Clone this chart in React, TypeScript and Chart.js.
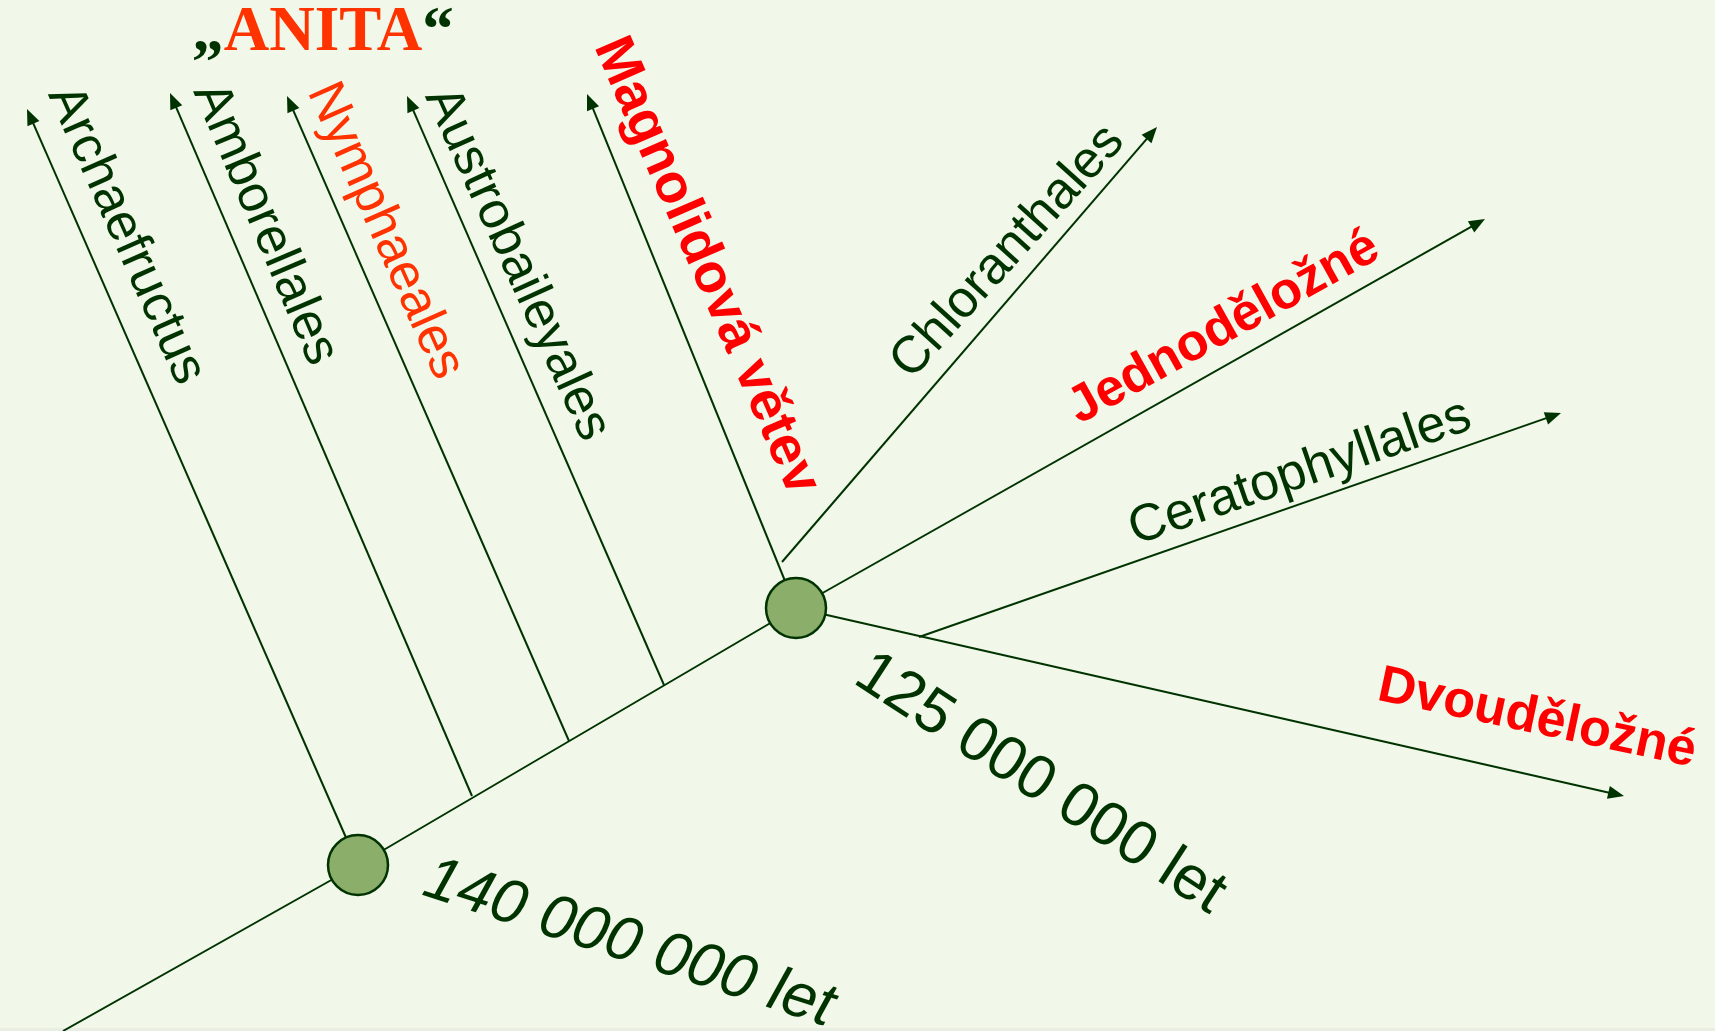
import React, { useEffect, useRef } from "react";
import { Chart, registerables } from "chart.js";

Chart.register(...registerables);

const W = 1715;
const H = 1031;

// divergence nodes
const nodeLabels = ["140 000 000 let", "125 000 000 let"];
const nodeX = [358, 796];
const nodeY = [865, 608];

// main stem
const trunkX = [63, 358, 796];
const trunkY = [1031, 865, 608];

// branches (start on stem / node, end at arrow tip)
const branchNames = [
  "Archaefructus",
  "Amborellales",
  "Nymphaeales",
  "Austrobaileyales",
  "Magnolidová větev",
  "Chloranthales",
  "Jednoděložné",
  "Ceratophyllales",
  "Dvouděložné",
];
const branchFromX = [358, 472, 569, 664, 796, 782, 796, 919, 796];
const branchFromY = [865, 796, 741, 685, 608, 562, 608, 637, 608];
const branchToX = [27, 170, 287, 407, 587, 1157, 1485, 1561, 1624];
const branchToY = [109, 93, 96, 96, 94, 127, 219, 413, 796];

// label styling / placement (layout, not data)
const DARK = "#003300";
const RED = "#ff0000";
const ORANGE = "#ff3300";
const SANS = "'Liberation Sans', Arial, sans-serif";
const SERIF = "'Liberation Serif', 'Times New Roman', serif";

type Lab = { text: string; x: number; y: number; a: number; font: string; color: string };
const labels: Lab[] = [
  { text: branchNames[0], x: 126, y: 235, a: 66, font: `52px ${SANS}`, color: DARK },
  { text: branchNames[1], x: 265, y: 224, a: 67, font: `52px ${SANS}`, color: DARK },
  { text: branchNames[2], x: 385, y: 231, a: 66, font: `52px ${SANS}`, color: ORANGE },
  { text: branchNames[3], x: 517, y: 264, a: 65.5, font: `52px ${SANS}`, color: DARK },
  { text: branchNames[4], x: 706, y: 266, a: 66.5, font: `bold 55px ${SANS}`, color: RED },
  { text: branchNames[5], x: 1008, y: 252, a: -48, font: `52px ${SANS}`, color: DARK },
  { text: branchNames[6], x: 1224, y: 328, a: -29, font: `bold 52px ${SANS}`, color: RED },
  { text: branchNames[7], x: 1300, y: 473, a: -19, font: `52px ${SANS}`, color: DARK },
  { text: branchNames[8], x: 1537, y: 719, a: 12, font: `bold 52px ${SANS}`, color: RED },
  { text: nodeLabels[0], x: 629, y: 944, a: 18, font: `italic 62px ${SANS}`, color: DARK },
  { text: nodeLabels[1], x: 1040, y: 784, a: 33, font: `62px ${SANS}`, color: DARK },
];

const ARROW_LEN = 16;
const ARROW_HALF = 6.5;

export default function App() {
  const ref = useRef<HTMLCanvasElement | null>(null);

  useEffect(() => {
    document.body.style.margin = "0";
    const canvas = ref.current;
    if (!canvas) return;

    const lineSets: any[] = [];
    lineSets.push({
      type: "line",
      data: trunkX.map((x, i) => ({ x, y: trunkY[i] })),
      borderColor: DARK,
      borderWidth: 2,
      pointRadius: 0,
      showLine: true,
      order: 2,
    });
    branchNames.forEach((_, i) => {
      const dx = branchToX[i] - branchFromX[i];
      const dy = branchToY[i] - branchFromY[i];
      const len = Math.hypot(dx, dy);
      const ex = branchToX[i] - (dx / len) * (ARROW_LEN - 2);
      const ey = branchToY[i] - (dy / len) * (ARROW_LEN - 2);
      lineSets.push({
        type: "line",
        data: [
          { x: branchFromX[i], y: branchFromY[i] },
          { x: ex, y: ey },
        ],
        borderColor: DARK,
        borderWidth: 2,
        pointRadius: 0,
        showLine: true,
        order: 2,
      });
    });

    const nodeSet = {
      type: "scatter",
      data: nodeX.map((x, i) => ({ x, y: nodeY[i] })),
      backgroundColor: "#8bae6b",
      borderColor: DARK,
      borderWidth: 2.5,
      pointRadius: 30,
      order: 0,
    };

    const bgPlugin = {
      id: "bg",
      beforeDraw(chart: any) {
        const c = chart.ctx;
        c.save();
        c.fillStyle = "#f1f8e9";
        c.fillRect(0, 0, chart.width, chart.height);
        c.fillStyle = "#e8eee2";
        c.fillRect(0, chart.height - 3, chart.width, 3);
        c.restore();
      },
    };

    const arrowPlugin = {
      id: "arrows",
      afterDatasetsDraw(chart: any) {
        const c = chart.ctx;
        const xs = chart.scales.x;
        const ys = chart.scales.y;
        c.save();
        c.fillStyle = DARK;
        branchNames.forEach((_, i) => {
          const x0 = xs.getPixelForValue(branchFromX[i]);
          const y0 = ys.getPixelForValue(branchFromY[i]);
          const x1 = xs.getPixelForValue(branchToX[i]);
          const y1 = ys.getPixelForValue(branchToY[i]);
          const ang = Math.atan2(y1 - y0, x1 - x0);
          c.save();
          c.translate(x1, y1);
          c.rotate(ang);
          c.beginPath();
          c.moveTo(0, 0);
          c.lineTo(-ARROW_LEN, -ARROW_HALF);
          c.lineTo(-ARROW_LEN, ARROW_HALF);
          c.closePath();
          c.fill();
          c.restore();
        });
        c.restore();
      },
    };

    const textPlugin = {
      id: "texts",
      afterDraw(chart: any) {
        const c = chart.ctx;
        const xs = chart.scales.x;
        const ys = chart.scales.y;
        c.save();
        labels.forEach((l) => {
          c.save();
          c.translate(xs.getPixelForValue(l.x), ys.getPixelForValue(l.y));
          c.rotate((l.a * Math.PI) / 180);
          c.font = l.font;
          c.fillStyle = l.color;
          c.textAlign = "center";
          c.textBaseline = "middle";
          c.fillText(l.text, 0, 0);
          c.restore();
        });
        // „ANITA“ heading
        const hx = xs.getPixelForValue(323);
        const hy = ys.getPixelForValue(50);
        c.font = `bold 63px ${SERIF}`;
        c.textBaseline = "alphabetic";
        c.textAlign = "left";
        const p1 = "\u201E";
        const p2 = "ANITA";
        const p3 = "\u201C";
        const w1 = c.measureText(p1).width;
        const w2 = c.measureText(p2).width;
        const w3 = c.measureText(p3).width;
        let x = hx - (w1 + w2 + w3) / 2;
        c.fillStyle = DARK;
        c.fillText(p1, x, hy);
        x += w1;
        c.fillStyle = ORANGE;
        c.fillText(p2, x, hy);
        x += w2;
        c.fillStyle = DARK;
        c.fillText(p3, x, hy);
        c.restore();
      },
    };

    const chart = new Chart(canvas, {
      type: "scatter",
      data: { datasets: [nodeSet, ...lineSets] as any },
      options: {
        animation: false,
        responsive: false,
        devicePixelRatio: 1,
        layout: { padding: 0, autoPadding: false },
        plugins: { legend: { display: false }, tooltip: { enabled: false } },
        events: [],
        scales: {
          x: { type: "linear", min: 0, max: W, display: false },
          y: { type: "linear", min: 0, max: H, reverse: true, display: false },
        },
      },
      plugins: [bgPlugin, arrowPlugin, textPlugin],
    } as any);

    return () => chart.destroy();
  }, []);

  return (
    <div style={{ width: W, height: H }}>
      <canvas ref={ref} width={W} height={H} style={{ display: "block" }} />
    </div>
  );
}
